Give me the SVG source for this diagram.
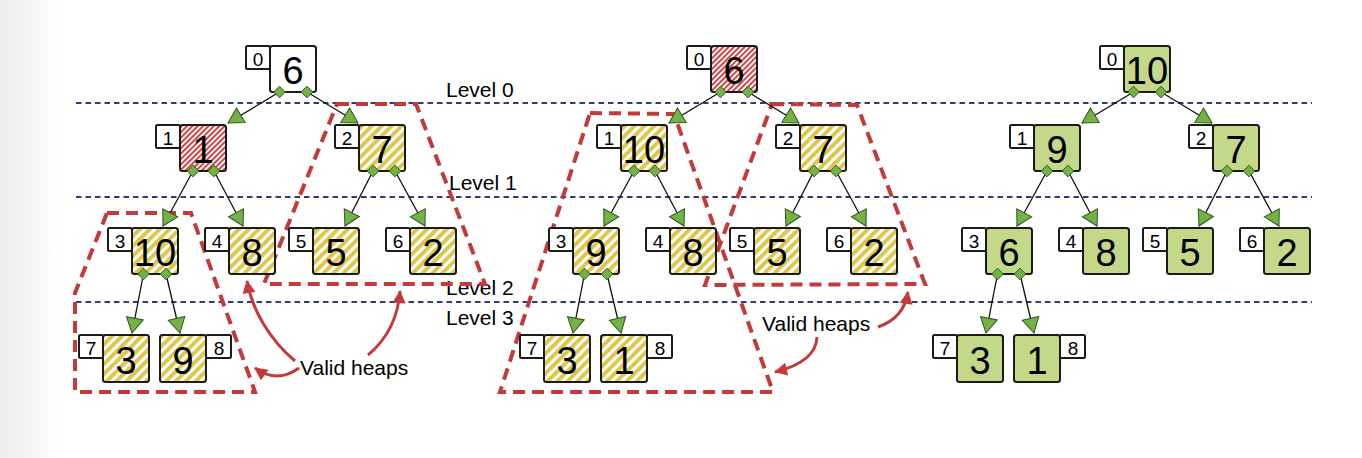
<svg xmlns="http://www.w3.org/2000/svg" xmlns:xlink="http://www.w3.org/1999/xlink" width="1362" height="458" viewBox="0 0 1362 458">
<defs>
  <linearGradient id="edgeShade" x1="0" y1="0" x2="1" y2="0">
    <stop offset="0" stop-color="#ececec"/>
    <stop offset="1" stop-color="#ffffff"/>
  </linearGradient>
  <pattern id="red" width="3.8" height="10" patternUnits="userSpaceOnUse" patternTransform="rotate(45)">
    <rect width="3.8" height="10" fill="#ffffff"/>
    <rect width="2" height="10" fill="#cf4444"/>
  </pattern>
  <pattern id="yel" width="7" height="10" patternUnits="userSpaceOnUse" patternTransform="rotate(45)">
    <rect width="7" height="10" fill="#ffffff"/>
    <rect width="3.9" height="10" fill="#e0c648"/>
  </pattern>
  <marker id="tri" markerUnits="userSpaceOnUse" markerWidth="18" markerHeight="19" refX="15" refY="8.5" orient="auto" overflow="visible">
    <path d="M0,0 L15,8.5 L0,17 Z" fill="#74b146" stroke="#2d5a1a" stroke-width="1"/>
  </marker>
  <marker id="rarr" markerUnits="userSpaceOnUse" markerWidth="14" markerHeight="14" refX="12" refY="6.5" orient="auto" overflow="visible">
    <path d="M0,0 L13,6.5 L0,13 Z" fill="#c43a3a"/>
  </marker>
  <path id="dia" d="M0,-5.8 L5.8,0 L0,5.8 L-5.8,0 Z"/>
  <style>
    .main { stroke:#1b1b1b; stroke-width:2; }
    .white { fill:#ffffff; }
    .redf { fill:url(#red); }
    .yelf { fill:url(#yel); }
    .grn { fill:#c4d88a; }
    .idx { fill:#ffffff; stroke:#1b1b1b; stroke-width:2; }
    .num { font-family:"Liberation Sans", Arial, sans-serif; font-size:38px; text-anchor:middle; fill:#000; }
    .inum { font-family:"Liberation Sans", Arial, sans-serif; font-size:19px; text-anchor:middle; fill:#000; }
    .edge { stroke:#111; stroke-width:1.3; fill:none; marker-end:url(#tri); }
    .port { fill:#74b146; stroke:#2d5a1a; stroke-width:1; }
    .level { stroke:#2e3c7e; stroke-width:2; stroke-dasharray:5.5 4; fill:none; }
    .heap { fill:none; stroke:#c43a3a; stroke-width:4; stroke-dasharray:12 7; stroke-linejoin:miter; }
    .callout { fill:none; stroke:#c43a3a; stroke-width:3; marker-end:url(#rarr); }
    .lbl { font-family:"Liberation Sans", Arial, sans-serif; font-size:21px; fill:#000; }
  </style>
</defs>

<rect x="0" y="0" width="1362" height="458" fill="#ffffff"/>
<rect x="0" y="0" width="60" height="458" fill="url(#edgeShade)"/>

<g id="levels">
  <line class="level" x1="76" y1="103" x2="1312" y2="103"/>
  <line class="level" x1="76" y1="197" x2="1312" y2="197"/>
  <line class="level" x1="76" y1="302" x2="1312" y2="302"/>
  <text class="lbl" x="446" y="97">Level 0</text>
  <text class="lbl" x="449" y="190">Level 1</text>
  <text class="lbl" x="446" y="295">Level 2</text>
  <text class="lbl" x="446" y="325">Level 3</text>
</g>

<g id="valid-heaps">
  <polygon class="heap" points="337,104 416,104 485,284 264,284"/>
  <polygon class="heap" points="107,213 191,213 255,392 75,392 75,293"/>
  <polygon class="heap" points="590,113 674,114 773,392 500,392"/>
  <polygon class="heap" points="772,104 857,105 925,284 705,285"/>
</g>

<!-- Tree 1 -->
<g id="tree1">
  <g id="t1-edges">
    <path class="edge" d="M279.5,92 L228,123"/>
    <path class="edge" d="M307,92 L358,123"/>
    <path class="edge" d="M193,171 L163,226"/>
    <path class="edge" d="M214,171 L243,226"/>
    <path class="edge" d="M373,171 L345,226"/>
    <path class="edge" d="M395,171 L425,226"/>
    <path class="edge" d="M143.5,274 L132,333"/>
    <path class="edge" d="M166,274 L180,333"/>
  </g>
  <g id="t1-n0"><rect class="idx" x="246" y="46" width="24" height="23" rx="1.5"/><rect class="main white" x="270" y="46" width="46" height="46" rx="2.5"/><text class="inum" x="258" y="66">0</text><text class="num" x="293" y="84">6</text></g>
  <g id="t1-n1"><rect class="idx" x="156" y="125" width="24" height="23" rx="1.5"/><rect class="main redf" x="180" y="125" width="46" height="46" rx="2.5"/><text class="inum" x="168" y="145">1</text><text class="num" x="203" y="163">1</text></g>
  <g id="t1-n2"><rect class="idx" x="335" y="125" width="24" height="23" rx="1.5"/><rect class="main yelf" x="359" y="125" width="46" height="46" rx="2.5"/><text class="inum" x="347" y="145">2</text><text class="num" x="382" y="163">7</text></g>
  <g id="t1-n3"><rect class="idx" x="108" y="228" width="24" height="23" rx="1.5"/><rect class="main yelf" x="132" y="228" width="46" height="46" rx="2.5"/><text class="inum" x="120" y="248">3</text><text class="num" x="155" y="266">10</text></g>
  <g id="t1-n4"><rect class="idx" x="205" y="228" width="24" height="23" rx="1.5"/><rect class="main yelf" x="229" y="228" width="46" height="46" rx="2.5"/><text class="inum" x="217" y="248">4</text><text class="num" x="252" y="266">8</text></g>
  <g id="t1-n5"><rect class="idx" x="289" y="228" width="24" height="23" rx="1.5"/><rect class="main yelf" x="313" y="228" width="46" height="46" rx="2.5"/><text class="inum" x="301" y="248">5</text><text class="num" x="336" y="266">5</text></g>
  <g id="t1-n6"><rect class="idx" x="386" y="228" width="24" height="23" rx="1.5"/><rect class="main yelf" x="410" y="228" width="46" height="46" rx="2.5"/><text class="inum" x="398" y="248">6</text><text class="num" x="433" y="266">2</text></g>
  <g id="t1-n7"><rect class="idx" x="79" y="335" width="24" height="23" rx="1.5"/><rect class="main yelf" x="103" y="335" width="46" height="47" rx="2.5"/><text class="inum" x="91" y="355">7</text><text class="num" x="126" y="374">3</text></g>
  <g id="t1-n8"><rect class="idx" x="206" y="335" width="25" height="23" rx="1.5"/><rect class="main yelf" x="160" y="335" width="46" height="47" rx="2.5"/><text class="inum" x="219" y="355">8</text><text class="num" x="183" y="374">9</text></g>
  <g id="t1-ports">
    <use xlink:href="#dia" class="port" x="279.5" y="92"/>
    <use xlink:href="#dia" class="port" x="307" y="92"/>
    <use xlink:href="#dia" class="port" x="193" y="171"/>
    <use xlink:href="#dia" class="port" x="214" y="171"/>
    <use xlink:href="#dia" class="port" x="373" y="171"/>
    <use xlink:href="#dia" class="port" x="395" y="171"/>
    <use xlink:href="#dia" class="port" x="143.5" y="274"/>
    <use xlink:href="#dia" class="port" x="166" y="274"/>
  </g>
</g>

<!-- Tree 2 -->
<g id="tree2" transform="translate(441,0)">
  <g id="t2-edges">
    <path class="edge" d="M279.5,92 L228,123"/>
    <path class="edge" d="M307,92 L358,123"/>
    <path class="edge" d="M193,171 L163,226"/>
    <path class="edge" d="M214,171 L243,226"/>
    <path class="edge" d="M373,171 L345,226"/>
    <path class="edge" d="M395,171 L425,226"/>
    <path class="edge" d="M143.5,274 L132,333"/>
    <path class="edge" d="M166,274 L180,333"/>
  </g>
  <g id="t2-n0"><rect class="idx" x="246" y="46" width="24" height="23" rx="1.5"/><rect class="main redf" x="270" y="46" width="46" height="46" rx="2.5"/><text class="inum" x="258" y="66">0</text><text class="num" x="293" y="84">6</text></g>
  <g id="t2-n1"><rect class="idx" x="156" y="125" width="24" height="23" rx="1.5"/><rect class="main yelf" x="180" y="125" width="46" height="46" rx="2.5"/><text class="inum" x="168" y="145">1</text><text class="num" x="203" y="163">10</text></g>
  <g id="t2-n2"><rect class="idx" x="335" y="125" width="24" height="23" rx="1.5"/><rect class="main yelf" x="359" y="125" width="46" height="46" rx="2.5"/><text class="inum" x="347" y="145">2</text><text class="num" x="382" y="163">7</text></g>
  <g id="t2-n3"><rect class="idx" x="108" y="228" width="24" height="23" rx="1.5"/><rect class="main yelf" x="132" y="228" width="46" height="46" rx="2.5"/><text class="inum" x="120" y="248">3</text><text class="num" x="155" y="266">9</text></g>
  <g id="t2-n4"><rect class="idx" x="205" y="228" width="24" height="23" rx="1.5"/><rect class="main yelf" x="229" y="228" width="46" height="46" rx="2.5"/><text class="inum" x="217" y="248">4</text><text class="num" x="252" y="266">8</text></g>
  <g id="t2-n5"><rect class="idx" x="289" y="228" width="24" height="23" rx="1.5"/><rect class="main yelf" x="313" y="228" width="46" height="46" rx="2.5"/><text class="inum" x="301" y="248">5</text><text class="num" x="336" y="266">5</text></g>
  <g id="t2-n6"><rect class="idx" x="386" y="228" width="24" height="23" rx="1.5"/><rect class="main yelf" x="410" y="228" width="46" height="46" rx="2.5"/><text class="inum" x="398" y="248">6</text><text class="num" x="433" y="266">2</text></g>
  <g id="t2-n7"><rect class="idx" x="79" y="335" width="24" height="23" rx="1.5"/><rect class="main yelf" x="103" y="335" width="46" height="47" rx="2.5"/><text class="inum" x="91" y="355">7</text><text class="num" x="126" y="374">3</text></g>
  <g id="t2-n8"><rect class="idx" x="206" y="335" width="25" height="23" rx="1.5"/><rect class="main yelf" x="160" y="335" width="46" height="47" rx="2.5"/><text class="inum" x="219" y="355">8</text><text class="num" x="183" y="374">1</text></g>
  <g id="t2-ports">
    <use xlink:href="#dia" class="port" x="279.5" y="92"/>
    <use xlink:href="#dia" class="port" x="307" y="92"/>
    <use xlink:href="#dia" class="port" x="193" y="171"/>
    <use xlink:href="#dia" class="port" x="214" y="171"/>
    <use xlink:href="#dia" class="port" x="373" y="171"/>
    <use xlink:href="#dia" class="port" x="395" y="171"/>
    <use xlink:href="#dia" class="port" x="143.5" y="274"/>
    <use xlink:href="#dia" class="port" x="166" y="274"/>
  </g>
</g>

<!-- Tree 3 -->
<g id="tree3" transform="translate(854,0)">
  <g id="t3-edges">
    <path class="edge" d="M279.5,92 L228,123"/>
    <path class="edge" d="M307,92 L358,123"/>
    <path class="edge" d="M193,171 L163,226"/>
    <path class="edge" d="M214,171 L243,226"/>
    <path class="edge" d="M373,171 L345,226"/>
    <path class="edge" d="M395,171 L425,226"/>
    <path class="edge" d="M143.5,274 L132,333"/>
    <path class="edge" d="M166,274 L180,333"/>
  </g>
  <g id="t3-n0"><rect class="idx" x="246" y="46" width="24" height="23" rx="1.5"/><rect class="main grn" x="270" y="46" width="46" height="46" rx="2.5"/><text class="inum" x="258" y="66">0</text><text class="num" x="293" y="84">10</text></g>
  <g id="t3-n1"><rect class="idx" x="156" y="125" width="24" height="23" rx="1.5"/><rect class="main grn" x="180" y="125" width="46" height="46" rx="2.5"/><text class="inum" x="168" y="145">1</text><text class="num" x="203" y="163">9</text></g>
  <g id="t3-n2"><rect class="idx" x="335" y="125" width="24" height="23" rx="1.5"/><rect class="main grn" x="359" y="125" width="46" height="46" rx="2.5"/><text class="inum" x="347" y="145">2</text><text class="num" x="382" y="163">7</text></g>
  <g id="t3-n3"><rect class="idx" x="108" y="228" width="24" height="23" rx="1.5"/><rect class="main grn" x="132" y="228" width="46" height="46" rx="2.5"/><text class="inum" x="120" y="248">3</text><text class="num" x="155" y="266">6</text></g>
  <g id="t3-n4"><rect class="idx" x="205" y="228" width="24" height="23" rx="1.5"/><rect class="main grn" x="229" y="228" width="46" height="46" rx="2.5"/><text class="inum" x="217" y="248">4</text><text class="num" x="252" y="266">8</text></g>
  <g id="t3-n5"><rect class="idx" x="289" y="228" width="24" height="23" rx="1.5"/><rect class="main grn" x="313" y="228" width="46" height="46" rx="2.5"/><text class="inum" x="301" y="248">5</text><text class="num" x="336" y="266">5</text></g>
  <g id="t3-n6"><rect class="idx" x="386" y="228" width="24" height="23" rx="1.5"/><rect class="main grn" x="410" y="228" width="46" height="46" rx="2.5"/><text class="inum" x="398" y="248">6</text><text class="num" x="433" y="266">2</text></g>
  <g id="t3-n7"><rect class="idx" x="79" y="335" width="24" height="23" rx="1.5"/><rect class="main grn" x="103" y="335" width="46" height="47" rx="2.5"/><text class="inum" x="91" y="355">7</text><text class="num" x="126" y="374">3</text></g>
  <g id="t3-n8"><rect class="idx" x="206" y="335" width="25" height="23" rx="1.5"/><rect class="main grn" x="160" y="335" width="46" height="47" rx="2.5"/><text class="inum" x="219" y="355">8</text><text class="num" x="183" y="374">1</text></g>
  <g id="t3-ports">
    <use xlink:href="#dia" class="port" x="279.5" y="92"/>
    <use xlink:href="#dia" class="port" x="307" y="92"/>
    <use xlink:href="#dia" class="port" x="193" y="171"/>
    <use xlink:href="#dia" class="port" x="214" y="171"/>
    <use xlink:href="#dia" class="port" x="373" y="171"/>
    <use xlink:href="#dia" class="port" x="395" y="171"/>
    <use xlink:href="#dia" class="port" x="143.5" y="274"/>
    <use xlink:href="#dia" class="port" x="166" y="274"/>
  </g>
</g>

<g id="callouts">
  <text class="lbl" x="300" y="375">Valid heaps</text>
  <path class="callout" d="M299,368 Q277,384 255,368"/>
  <path class="callout" d="M295,361 C270,340 252,310 247,281"/>
  <path class="callout" d="M368,355 Q397,331 400,291"/>
  <text class="lbl" x="762" y="331">Valid heaps</text>
  <path class="callout" d="M878,327 Q904,318 908,292"/>
  <path class="callout" d="M817,337 Q816,362 775,372"/>
</g>
</svg>
